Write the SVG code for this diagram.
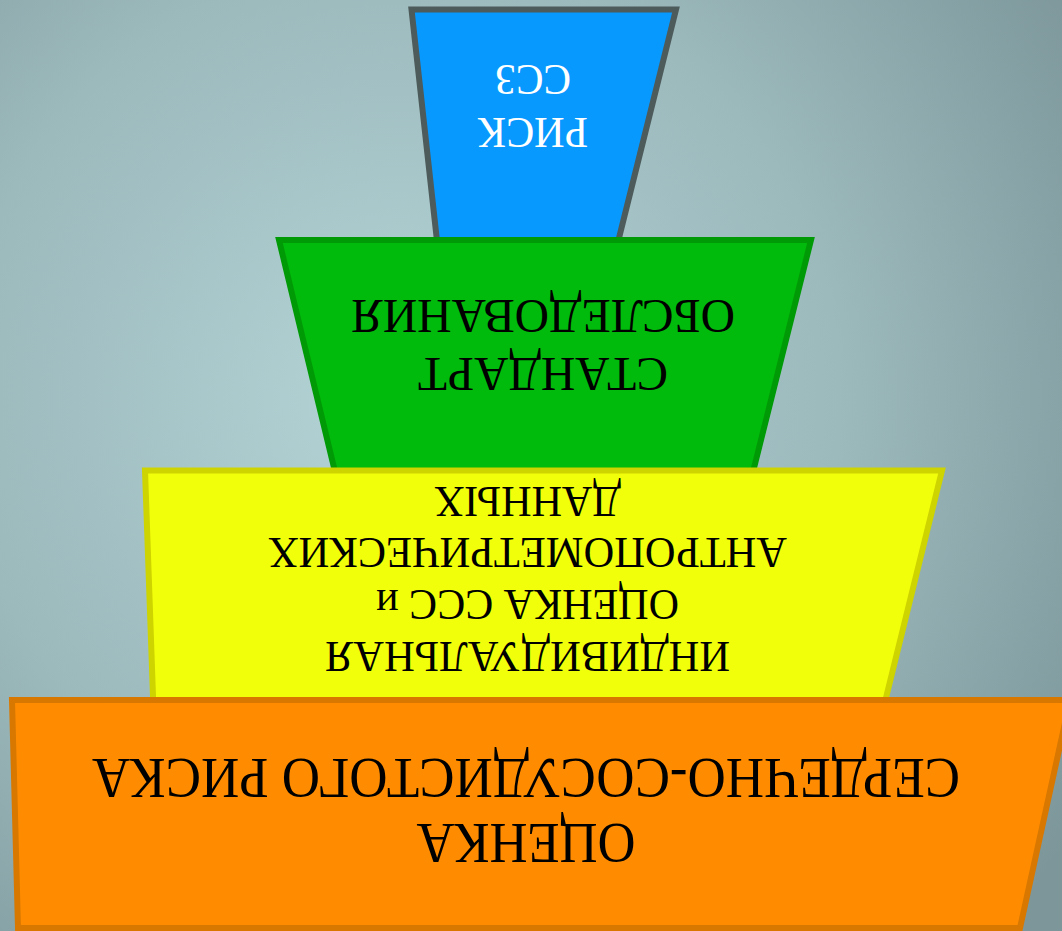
<svg xmlns="http://www.w3.org/2000/svg" width="1062" height="931" viewBox="0 0 1062 931">
<defs>
<radialGradient id="bg" gradientUnits="userSpaceOnUse" cx="400" cy="400" r="800">
<stop offset="0" stop-color="#b3d4d6"/>
<stop offset="0.55" stop-color="#9cb9bc"/>
<stop offset="1" stop-color="#7c969a"/>
</radialGradient>
<style>
.lvl{stroke-width:6;stroke-linejoin:miter}
.t{font-family:"Liberation Serif","Times New Roman",serif;text-anchor:middle}
</style>
</defs>
<rect width="1062" height="931" fill="url(#bg)"/>
<g id="level-blue">
<polygon class="lvl" points="411.5,9.5 676,9.5 616,250 438,250" fill="#0899ff" stroke="#4d5b5b"/>
<g transform="rotate(180 533 107)" class="t" fill="#ffffff" font-size="44">
<text x="533" y="96" textLength="110" lengthAdjust="spacingAndGlyphs">РИСК</text>
<text x="533" y="149" textLength="76" lengthAdjust="spacingAndGlyphs">ССЗ</text>
</g>
</g>
<g id="level-green">
<polygon class="lvl" points="279,240 811,240 751,480 337,480" fill="#00bb0b" stroke="#009a07"/>
<g transform="rotate(180 543 345)" class="t" fill="#000000" font-size="48">
<text x="543" y="332" textLength="250" lengthAdjust="spacingAndGlyphs">СТАНДАРТ</text>
<text x="543" y="390" textLength="384" lengthAdjust="spacingAndGlyphs">ОБСЛЕДОВАНИЯ</text>
</g>
</g>
<g id="level-yellow">
<polygon class="lvl" points="145,470.5 942,470.5 883,710 153.5,710" fill="#f2ff0a" stroke="#cdd400"/>
<g transform="rotate(180 527.5 580)" class="t" fill="#000000" font-size="44">
<text x="527.5" y="518" textLength="405" lengthAdjust="spacingAndGlyphs">ИНДИВИДУАЛЬНАЯ</text>
<text x="527.5" y="570" textLength="303" lengthAdjust="spacingAndGlyphs">ОЦЕНКА ССС и</text>
<text x="527.5" y="622" textLength="519" lengthAdjust="spacingAndGlyphs">АНТРОПОМЕТРИЧЕСКИХ</text>
<text x="527.5" y="673" textLength="187" lengthAdjust="spacingAndGlyphs">ДАННЫХ</text>
</g>
</g>
<g id="level-orange">
<polygon class="lvl" points="12,700 1070,700 1020,928 18,928" fill="#ff8c00" stroke="#d87800"/>
<g transform="rotate(180 526 800)" class="t" fill="#000000" font-size="56">
<text x="526" y="776" textLength="219" lengthAdjust="spacingAndGlyphs">ОЦЕНКА</text>
<text x="526" y="841" textLength="868" lengthAdjust="spacingAndGlyphs">СЕРДЕЧНО-СОСУДИСТОГО РИСКА</text>
</g>
</g>
<g id="connectors"/>
</svg>
